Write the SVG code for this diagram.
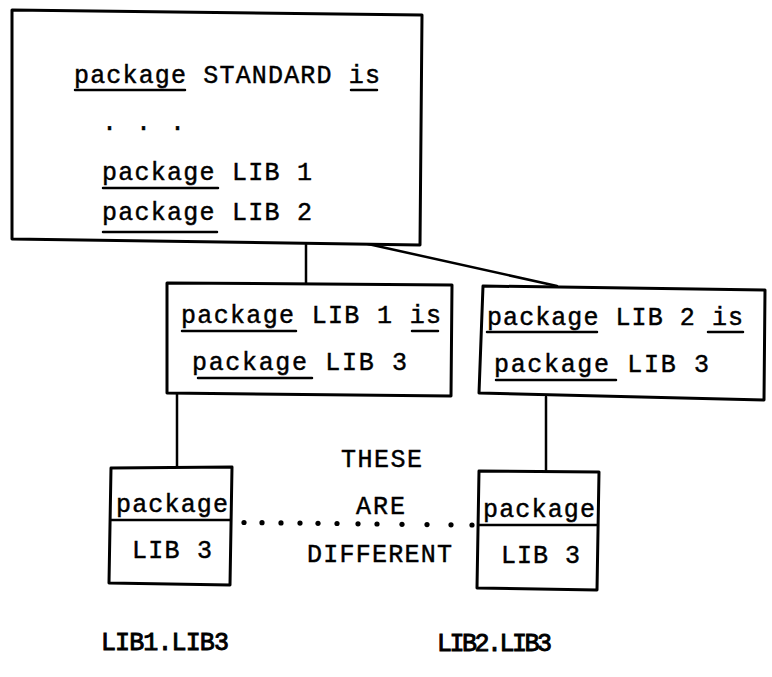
<svg xmlns="http://www.w3.org/2000/svg" width="772" height="677" viewBox="0 0 772 677">
  <style>
    .box { fill: #fff; stroke: #000; stroke-width: 3; stroke-linejoin: round; }
    .wire { fill: none; stroke: #000; stroke-width: 2.5; stroke-linecap: round; }
    .ul { stroke: #000; stroke-width: 2.5; stroke-linecap: round; }
    .div { stroke: #000; stroke-width: 2.5; }
    .t { font-family: "Liberation Mono", "DejaVu Sans Mono", monospace; font-size: 25px; fill: #000; stroke: #000; stroke-width: 0.45; }
    .b { stroke-width: 0.9; }
    .dot { fill: #000; }
  </style>

  <rect width="772" height="677" fill="#fff"/>

  <!-- connectors -->
  <g id="connectors">
    <line class="wire" x1="306" y1="243" x2="306" y2="283"/>
    <line class="wire" x1="368" y1="244" x2="557" y2="286" stroke-width="3.5"/>
    <line class="wire" x1="177" y1="394" x2="177" y2="467"/>
    <line class="wire" x1="546" y1="397" x2="546" y2="471"/>
  </g>

  <!-- package STANDARD -->
  <g id="standard">
    <path class="box" d="M12,10 L422,15 L420,245 L12,239 Z"/>
    <text class="t" x="74" y="83" textLength="306" lengthAdjust="spacing">package STANDARD is</text>
    <line class="ul" x1="75" y1="90" x2="185" y2="90"/>
    <line class="ul" x1="351" y1="90" x2="377" y2="90"/>
    <text class="t" x="102" y="130" textLength="83" lengthAdjust="spacing">. . .</text>
    <text class="t" x="102" y="180" textLength="210" lengthAdjust="spacing">package LIB 1</text>
    <line class="ul" x1="103" y1="188" x2="218" y2="188"/>
    <text class="t" x="102" y="220" textLength="210" lengthAdjust="spacing">package LIB 2</text>
    <line class="ul" x1="103" y1="232" x2="217" y2="232"/>
  </g>

  <!-- package LIB 1 -->
  <g id="lib1">
    <path class="box" d="M167,283 L452,285 L451,396 L167,393 Z"/>
    <text class="t" x="181" y="323" textLength="260" lengthAdjust="spacing">package LIB 1 is</text>
    <line class="ul" x1="182" y1="331" x2="296" y2="331"/>
    <line class="ul" x1="412" y1="331" x2="438" y2="331"/>
    <text class="t" x="192" y="370" textLength="215" lengthAdjust="spacing">package LIB 3</text>
    <line class="ul" x1="198" y1="378" x2="312" y2="378"/>
  </g>

  <!-- package LIB 2 -->
  <g id="lib2">
    <path class="box" d="M483,286 L765,290 L764,400 L479,393 Z"/>
    <text class="t" x="487" y="325" textLength="256" lengthAdjust="spacing">package LIB 2 is</text>
    <line class="ul" x1="487" y1="332" x2="597" y2="332"/>
    <line class="ul" x1="708" y1="332" x2="743" y2="332"/>
    <text class="t" x="494" y="372" textLength="215" lengthAdjust="spacing">package LIB 3</text>
    <line class="ul" x1="496" y1="380" x2="616" y2="380"/>
  </g>

  <!-- LIB1.LIB3 -->
  <g id="lib1-lib3">
    <path class="box" d="M111,468 L232,467 L230,585 L109,583 Z"/>
    <line class="div" x1="110" y1="520" x2="231" y2="520"/>
    <text class="t" x="116" y="512" textLength="112" lengthAdjust="spacing">package</text>
    <text class="t" x="132" y="558" textLength="80" lengthAdjust="spacing">LIB 3</text>
  </g>

  <!-- LIB2.LIB3 -->
  <g id="lib2-lib3">
    <path class="box" d="M479,471 L599,472 L597,590 L477,588 Z"/>
    <line class="div" x1="478" y1="525" x2="598" y2="525"/>
    <text class="t" x="483" y="517" textLength="112" lengthAdjust="spacing">package</text>
    <text class="t" x="501" y="563" textLength="79" lengthAdjust="spacing">LIB 3</text>
  </g>

  <!-- dotted link between the two LIB 3 packages -->
  <g id="difference">
    <circle class="dot" cx="244" cy="522.5" r="2.6"/>
    <circle class="dot" cx="262" cy="522.7" r="2.6"/>
    <circle class="dot" cx="281" cy="522.9" r="2.6"/>
    <circle class="dot" cx="300" cy="523.1" r="2.6"/>
    <circle class="dot" cx="318" cy="523.3" r="2.6"/>
    <circle class="dot" cx="337" cy="523.5" r="2.6"/>
    <circle class="dot" cx="358" cy="523.8" r="2.6"/>
    <circle class="dot" cx="377" cy="524" r="2.6"/>
    <circle class="dot" cx="402" cy="524.3" r="2.6"/>
    <circle class="dot" cx="427" cy="524.6" r="2.6"/>
    <circle class="dot" cx="451" cy="524.8" r="2.6"/>
    <circle class="dot" cx="472" cy="525" r="2.6"/>
    <text class="t" x="341" y="467" textLength="81" lengthAdjust="spacing">THESE</text>
    <text class="t" x="356" y="514" textLength="49" lengthAdjust="spacing">ARE</text>
    <text class="t" x="307" y="562" textLength="145" lengthAdjust="spacing">DIFFERENT</text>
  </g>

  <!-- qualified names -->
  <g id="names">
    <text class="t b" x="101" y="650" textLength="128" lengthAdjust="spacing">LIB1.LIB3</text>
    <text class="t b" x="437" y="651" textLength="115" lengthAdjust="spacing">LIB2.LIB3</text>
  </g>
</svg>
